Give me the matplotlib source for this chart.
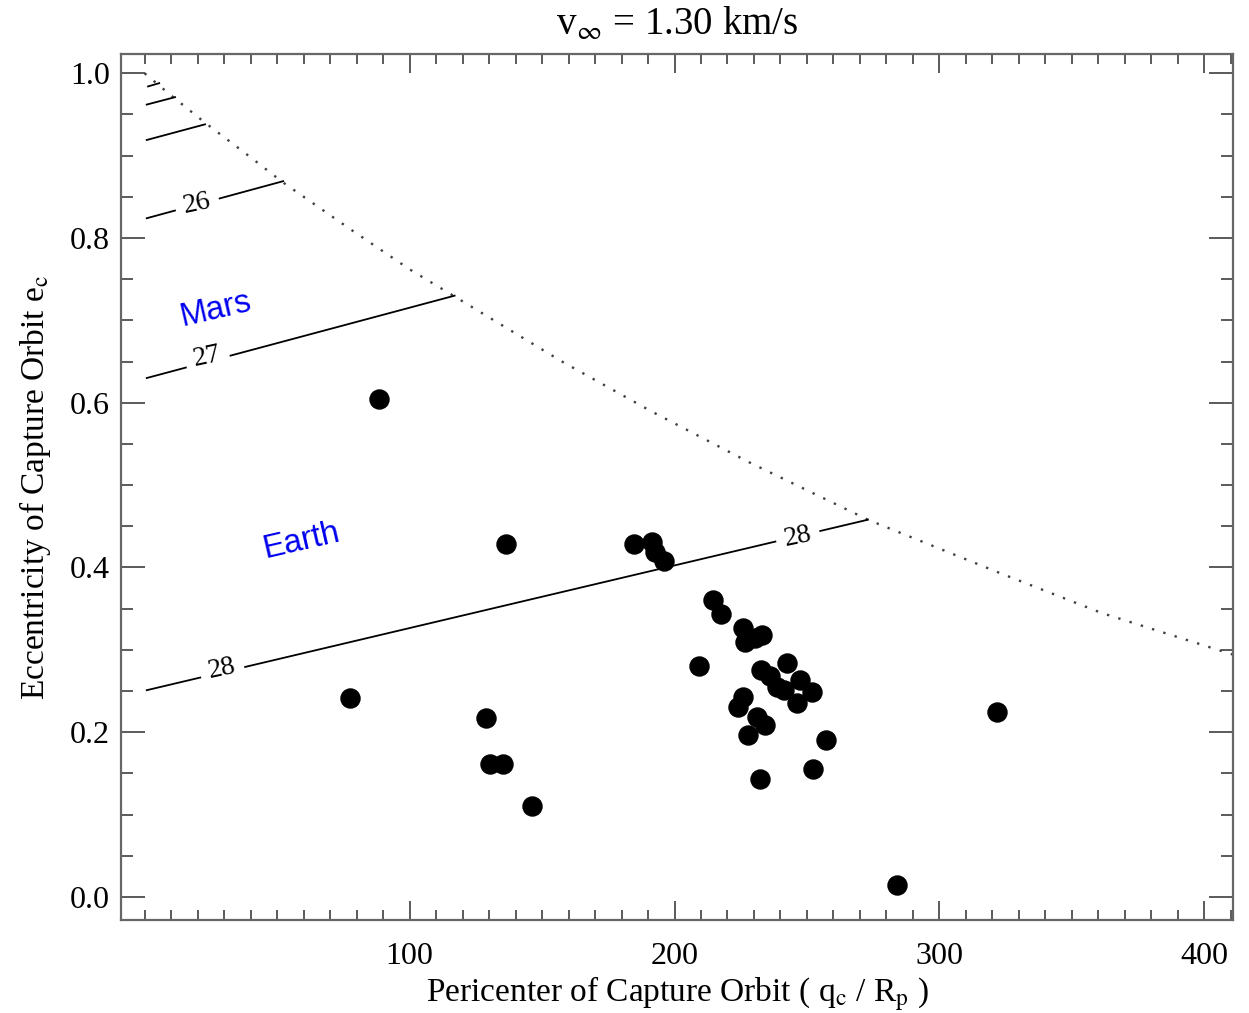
import numpy as np
import matplotlib
matplotlib.use("Agg")
import matplotlib.pyplot as plt
from matplotlib.ticker import MultipleLocator

plt.rcParams['font.family'] = ['Liberation Serif', 'DejaVu Serif']
plt.rcParams['mathtext.fontset'] = 'stix'

# captured objects: pericenter (q_c / R_p) and eccentricity e_c
peri = [88.4, 77.7, 136.3, 128.8, 130.2, 135.2, 146.1,
        184.6, 191.4, 192.6, 196.2, 209.4, 214.4, 217.5,
        225.9, 226.6, 230.4, 232.9,
        232.6, 242.3, 238.6, 247.4, 251.8, 246.1, 241.5, 236.0,
        225.9, 224.0, 231.0, 234.2, 227.8,
        257.2, 252.2, 232.3, 321.7, 284.0]
ecc = [0.605, 0.242, 0.429, 0.217, 0.162, 0.162, 0.111,
       0.429, 0.431, 0.419, 0.408, 0.280, 0.361, 0.344,
       0.326, 0.310, 0.314, 0.318,
       0.276, 0.284, 0.255, 0.263, 0.249, 0.235, 0.251, 0.268,
       0.243, 0.231, 0.219, 0.209, 0.197,
       0.191, 0.155, 0.143, 0.225, 0.015]

# dotted boundary (apocenter limit)
bound_q = [0, 10, 22.8, 40, 52, 77.5, 100, 117, 157, 191, 228, 273, 323, 361, 411]
bound_e = [1.0, 0.973, 0.940, 0.898, 0.868, 0.811, 0.762, 0.729, 0.651,
           0.590, 0.528, 0.458, 0.393, 0.345, 0.294]

# contour lines: (q0, e0, q1, e1)
contour_lines = [
    (1.3, 0.984, 5.5, 0.988),
    (0.8, 0.962, 11.5, 0.971),
    (0.8, 0.919, 22.8, 0.938),
    (0.8, 0.824, 52.3, 0.869),
    (0.8, 0.630, 117.0, 0.730),
    (0.8, 0.251, 273.0, 0.458),
]
# contour labels: text, q, e
contour_labels = [("26", 19.8, 0.842), ("27", 23.6, 0.656),
                  ("28", 29.2, 0.277), ("28", 246.6, 0.437)]

fig = plt.figure(figsize=(12.49, 10.13), dpi=100)
ax = fig.add_axes([0.0969, 0.0918, 0.8903, 0.8549])

ax.plot(bound_q, bound_e, color='0.25', lw=1.7, linestyle=(0, (1, 4)))

for q0, e0, q1, e1 in contour_lines:
    ax.plot([q0, q1], [e0, e1], color='black', lw=1.3)

for txt, q, e in contour_labels:
    ax.text(q, e, txt, fontsize=20, ha='center', va='center', rotation=12,
            bbox=dict(fc='white', ec='none', pad=6), zorder=3)

ax.plot(peri, ecc, 'o', color='black', markersize=13.7, zorder=4)

ax.text(27, 0.713, 'Mars', color='#0000ee', fontsize=23.5, family='Liberation Sans',
        ha='center', va='center', rotation=13)
ax.text(59.1, 0.432, 'Earth', color='#0000ee', fontsize=23.5, family='Liberation Sans',
        ha='center', va='center', rotation=13)

ax.set_xlim(-8.9, 410.8)
ax.set_ylim(-0.028, 1.0234)
ax.set_xticks([100, 200, 300, 400])
ax.xaxis.set_minor_locator(MultipleLocator(10))
ax.set_yticks([0.0, 0.2, 0.4, 0.6, 0.8, 1.0])
ax.set_yticklabels(['0.0', '0.2', '0.4', '0.6', '0.8', '1.0'])
ax.yaxis.set_minor_locator(MultipleLocator(0.05))

for s in ax.spines.values():
    s.set_color('0.4')
    s.set_linewidth(1.6)
ax.tick_params(which='both', direction='in', top=True, right=True, color='0.3', width=1.3)
ax.tick_params(axis='x', which='major', length=14, pad=16, labelsize=23)
ax.tick_params(axis='x', which='minor', length=7)
ax.tick_params(axis='y', which='major', length=17, pad=8, labelsize=23)
ax.tick_params(axis='y', which='minor', length=8.6)

ax.set_title(r'v$_{\infty}$ = 1.30 km/s', fontsize=28, pad=14)
ax.set_xlabel(r'Pericenter of Capture Orbit ( q$_\mathrm{c}$ / R$_\mathrm{p}$ )',
              fontsize=24, labelpad=2)
ax.set_ylabel(r'Eccentricity of Capture Orbit e$_\mathrm{c}$', fontsize=24, labelpad=12)

fig.savefig('out.png', dpi=100)
